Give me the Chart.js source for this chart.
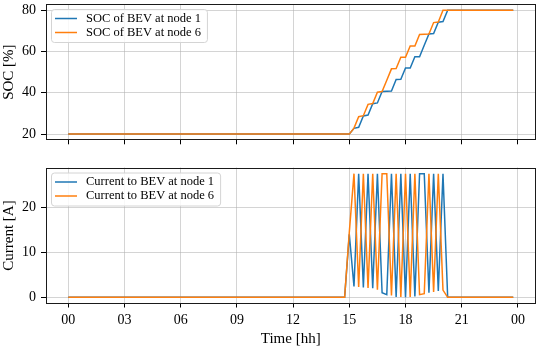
<!DOCTYPE html>
<html>
<head>
<meta charset="utf-8">
<script src="https://cdn.jsdelivr.net/npm/chart.js@4.4.1/dist/chart.umd.min.js"></script>
<style>
  html, body { margin: 0; padding: 0; background: #fff; }
  #wrap { position: relative; width: 540px; height: 350px; }
  #socBox { position: absolute; left: 0; top: 0; width: 540px; height: 155px; }
  #curBox { position: absolute; left: 0; top: 155px; width: 540px; height: 195px; }
</style>
</head>
<body>
<div id="wrap">
  <div id="socBox"><canvas id="socChart"></canvas></div>
  <div id="curBox"><canvas id="curChart"></canvas></div>
</div>
<script>
// 15 minute samples, 00:00 .. 23:45
const stepHours = 0.25;
const timeTicks = [0, 3, 6, 9, 12, 15, 18, 21, 24];
const timeLabels = ['00', '03', '06', '09', '12', '15', '18', '21', '00'];
const socTicks = [20, 40, 60, 80];
const currentTicks = [0, 10, 20];

const socLabels = ['SOC of BEV at node 1', 'SOC of BEV at node 6'];
const currentLabels = ['Current to BEV at node 1', 'Current to BEV at node 6'];

const socNode1 = [
  20,20,20,20,20,20,20,20,20,20,20,20,20,20,20,20,20,20,20,20,20,20,20,20,
  20,20,20,20,20,20,20,20,20,20,20,20,20,20,20,20,20,20,20,20,20,20,20,20,
  20,20,20,20,20,20,20,20,20,20,20,20,20,22.8,23.3,28.8,29.2,34.7,35.1,40.6,40.8,40.9,46.4,46.5,
  52.0,52.0,57.5,57.5,63.0,68.5,68.7,74.2,74.5,80,80,80,80,80,80,80,80,80,80,80,80,80,80,80
];
const socNode6 = [
  20,20,20,20,20,20,20,20,20,20,20,20,20,20,20,20,20,20,20,20,20,20,20,20,
  20,20,20,20,20,20,20,20,20,20,20,20,20,20,20,20,20,20,20,20,20,20,20,20,
  20,20,20,20,20,20,20,20,20,20,20,20,20,22.9,28.4,28.9,34.4,34.8,40.3,40.6,46.1,51.6,51.7,57.2,
  57.2,62.7,62.7,68.2,68.4,68.5,74.0,74.3,80,80,80,80,80,80,80,80,80,80,80,80,80,80,80,80
];
const currentNode1 = [
  0,0,0,0,0,0,0,0,0,0,0,0,0,0,0,0,0,0,0,0,0,0,0,0,
  0,0,0,0,0,0,0,0,0,0,0,0,0,0,0,0,0,0,0,0,0,0,0,0,
  0,0,0,0,0,0,0,0,0,0,0,0,14.0,2.4,27.5,2.2,27.5,2.0,27.5,1.0,0.6,27.5,0.1,27.5,
  0.0,27.5,0.2,27.5,27.5,1.0,27.5,1.4,27.5,0,0,0,0,0,0,0,0,0,0,0,0,0,0,0
];
const currentNode6 = [
  0,0,0,0,0,0,0,0,0,0,0,0,0,0,0,0,0,0,0,0,0,0,0,0,
  0,0,0,0,0,0,0,0,0,0,0,0,0,0,0,0,0,0,0,0,0,0,0,0,
  0,0,0,0,0,0,0,0,0,0,0,0,14.5,27.5,2.3,27.5,2.1,27.5,1.7,27.5,27.5,0.4,27.5,0.1,
  27.5,0.1,27.5,0.6,0.8,27.5,1.2,27.5,1.6,0,0,0,0,0,0,0,0,0,0,0,0,0,0,0
];

const BLUE = '#1f77b4';
const ORANGE = '#ff7f0e';
const SERIF = '"Liberation Serif", "DejaVu Serif", serif';
const GRID = 'rgba(176,176,176,0.55)';

const toPoints = arr => arr.map((v, i) => ({ x: i * stepHours, y: v }));

function lineSet(label, values, color, order) {
  return {
    label: label,
    data: toPoints(values),
    borderColor: color,
    backgroundColor: color,
    borderWidth: 1.5,
    pointRadius: 0,
    tension: 0,
    order: order
  };
}

// black box around the plot, like matplotlib spines
const framePlugin = {
  id: 'frame',
  afterDraw(chart) {
    const a = chart.chartArea, c = chart.ctx;
    c.save();
    c.strokeStyle = '#1a1a1a';
    c.lineWidth = 1;
    c.strokeRect(Math.round(a.left) + 0.5, Math.round(a.top) + 0.5,
                 Math.round(a.width) - 1, Math.round(a.height) - 1);
    c.restore();
  }
};

// legend box in the upper-left corner of the plot
const boxLegend = {
  id: 'boxLegend',
  afterDatasetsDraw(chart) {
    const a = chart.chartArea, c = chart.ctx;
    const sets = chart.data.datasets;
    c.save();
    c.font = '12.5px ' + SERIF;
    const textW = Math.max(...sets.map(d => c.measureText(d.label).width));
    const x = a.left + 5, y = a.top + 5, w = textW + 41, h = 33;
    c.beginPath();
    c.roundRect(x + 0.5, y + 0.5, w, h, 3);
    c.fillStyle = 'rgba(255,255,255,0.85)';
    c.fill();
    c.strokeStyle = '#d4d4d4';
    c.lineWidth = 1;
    c.stroke();
    sets.forEach((d, i) => {
      const ly = y + 9.5 + i * 14;
      c.beginPath();
      c.moveTo(x + 4, ly);
      c.lineTo(x + 26, ly);
      c.strokeStyle = d.borderColor;
      c.lineWidth = 1.5;
      c.stroke();
      c.fillStyle = '#000';
      c.textBaseline = 'middle';
      c.fillText(d.label, x + 35, ly);
    });
    c.restore();
  }
};

function xScale(showLabels, height) {
  return {
    type: 'linear',
    min: -1.1875,
    max: 24.9375,
    afterBuildTicks: s => { s.ticks = timeTicks.map(v => ({ value: v })); },
    afterFit: s => { s.height = height; s.paddingLeft = 0; s.paddingRight = 0; },
    grid: { color: GRID, lineWidth: 1, tickColor: '#000', tickLength: 4, tickWidth: 1 },
    border: { display: false },
    ticks: {
      autoSkip: false,
      maxRotation: 0,
      padding: 4,
      color: '#000',
      font: { family: SERIF, size: 14 },
      callback: (v, i) => showLabels ? timeLabels[i] : ''
    },
    title: {
      display: showLabels,
      text: 'Time [hh]',
      color: '#000',
      font: { family: SERIF, size: 15 },
      padding: { top: 0, bottom: 1.5 }
    }
  };
}

function yScale(min, max, tickVals, title) {
  return {
    min: min,
    max: max,
    afterBuildTicks: s => { s.ticks = tickVals.map(v => ({ value: v })); },
    afterFit: s => { s.width = 46; s.paddingTop = 0; s.paddingBottom = 0; },
    grid: { color: GRID, lineWidth: 1, tickColor: '#000', tickLength: 5, tickWidth: 1 },
    border: { display: false },
    ticks: {
      padding: 5,
      color: '#000',
      font: { family: SERIF, size: 14 }
    },
    title: {
      display: true,
      text: title,
      color: '#000',
      font: { family: SERIF, size: 15 },
      padding: 0
    }
  };
}

const common = {
  responsive: true,
  maintainAspectRatio: false,
  animation: false,
  devicePixelRatio: 1,
  plugins: { legend: { display: false }, tooltip: { enabled: false } }
};

new Chart(document.getElementById('socChart'), {
  type: 'line',
  data: {
    datasets: [
      lineSet(socLabels[0], socNode1, BLUE, 1),
      lineSet(socLabels[1], socNode6, ORANGE, 0)
    ]
  },
  options: Object.assign({}, common, {
    layout: { padding: { top: 4, right: 4.5, left: 0, bottom: 0 } },
    scales: {
      x: xScale(false, 14.7),
      y: yScale(17, 83, socTicks, 'SOC [%]')
    }
  }),
  plugins: [boxLegend, framePlugin]
});

new Chart(document.getElementById('curChart'), {
  type: 'line',
  data: {
    datasets: [
      lineSet(currentLabels[0], currentNode1, BLUE, 1),
      lineSet(currentLabels[1], currentNode6, ORANGE, 0)
    ]
  },
  options: Object.assign({}, common, {
    layout: { padding: { top: 12.5, right: 4.5, left: 0, bottom: 0 } },
    scales: {
      x: xScale(true, 46.5),
      y: yScale(-1.375, 28.875, currentTicks, 'Current [A]')
    }
  }),
  plugins: [boxLegend, framePlugin]
});
</script>
</body>
</html>
